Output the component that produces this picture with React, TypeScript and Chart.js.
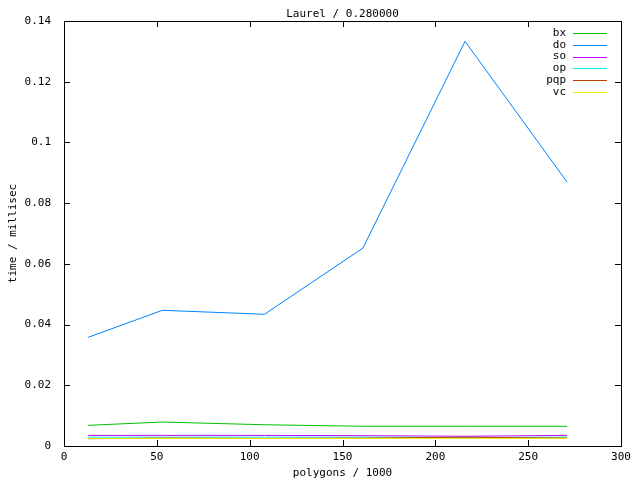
import React, { useEffect, useRef } from "react";
import { Chart, registerables } from "chart.js";

Chart.register(...registerables);

const chartTitle = "Laurel / 0.280000";
const xTitle = "polygons / 1000";
const yTitle = "time / millisec";

const polygons = [13, 53, 108, 161, 216, 271];

const seriesNames = ["bx", "do", "so", "op", "pqp", "vc"];
const bx = [0.0068, 0.0079, 0.007, 0.0065, 0.0065, 0.0065];
const doTimes = [0.0358, 0.0447, 0.0434, 0.0652, 0.1333, 0.0869];
const so = [0.0035, 0.0035, 0.0035, 0.0034, 0.0032, 0.0035];
const op = [0.0029, 0.0029, 0.0029, 0.0029, 0.0028, 0.0029];
const pqp = [0.0024, 0.0026, 0.0025, 0.0026, 0.0029, 0.0026];
const vc = [0.0025, 0.0025, 0.0025, 0.0025, 0.0025, 0.0025];
const seriesValues = [bx, doTimes, so, op, pqp, vc];
const seriesColors = ["#00c000", "#0080ff", "#c000ff", "#00eeee", "#c04000", "#eeee00"];

const xMin = 0;
const xMax = 300;
const xStep = 50;
const yMin = 0;
const yMax = 0.14;
const yStep = 0.02;

const FONT_FAMILY = "'DejaVu Sans Mono', 'Liberation Mono', monospace";
const font = { family: FONT_FAMILY, size: 11 };

const framePlugin = {
  id: "gnuplotFrame",
  afterDraw(chart: any) {
    const { ctx, chartArea } = chart;
    const { left, right, top, bottom } = chartArea;
    const xs = chart.scales.x;
    const ys = chart.scales.y;
    const tick = 6;
    ctx.save();
    ctx.strokeStyle = "#000";
    ctx.lineWidth = 1;
    ctx.beginPath();
    for (const t of xs.ticks) {
      const px = Math.round(xs.getPixelForValue(t.value)) + 0.5;
      ctx.moveTo(px, bottom);
      ctx.lineTo(px, bottom - tick);
      ctx.moveTo(px, top);
      ctx.lineTo(px, top + tick);
    }
    for (const t of ys.ticks) {
      const py = Math.round(ys.getPixelForValue(t.value)) + 0.5;
      ctx.moveTo(left, py);
      ctx.lineTo(left + tick, py);
      ctx.moveTo(right, py);
      ctx.lineTo(right - tick, py);
    }
    ctx.stroke();
    ctx.strokeRect(Math.round(left) + 0.5, Math.round(top) + 0.5, Math.round(right - left), Math.round(bottom - top));

    // title
    ctx.fillStyle = "#000";
    ctx.font = `11px ${FONT_FAMILY}`;
    ctx.textAlign = "center";
    ctx.textBaseline = "middle";
    ctx.fillText(chartTitle, (left + right) / 2, 14);

    // key (legend)
    const textRight = 566;
    const lineStart = 573;
    const lineEnd = 607;
    const rowTop = 33;
    const rowGap = 11.8;
    ctx.textAlign = "right";
    chart.data.datasets.forEach((ds: any, i: number) => {
      const y = rowTop + i * rowGap;
      ctx.fillStyle = "#000";
      ctx.fillText(ds.label, textRight, y);
      ctx.strokeStyle = ds.borderColor;
      ctx.beginPath();
      ctx.moveTo(lineStart, Math.round(y) + 0.5);
      ctx.lineTo(lineEnd, Math.round(y) + 0.5);
      ctx.stroke();
    });
    ctx.restore();
  },
};

export default function App() {
  const canvasRef = useRef<HTMLCanvasElement | null>(null);

  useEffect(() => {
    if (!canvasRef.current) return;
    const datasets = seriesNames.map((name, i) => ({
      label: name,
      data: polygons.map((x, j) => ({ x, y: seriesValues[i][j] })),
      borderColor: seriesColors[i],
      backgroundColor: seriesColors[i],
      borderWidth: 1,
      pointRadius: 0,
      tension: 0,
      fill: false,
      order: seriesNames.length - i,
    }));
    const chart = new Chart(canvasRef.current, {
      type: "line",
      data: { datasets },
      options: {
        animation: false,
        responsive: false,
        maintainAspectRatio: false,
        layout: { padding: { top: 21, right: 19, left: 0, bottom: 0 } },
        plugins: {
          legend: { display: false },
          tooltip: { enabled: false },
          title: { display: false },
        },
        scales: {
          x: {
            type: "linear",
            min: xMin,
            max: xMax,
            ticks: {
              stepSize: xStep,
              padding: 5,
              font,
              color: "#000",
              maxRotation: 0,
              callback: (v: any) => String(v),
            },
            grid: { display: false, drawTicks: false },
            border: { display: false },
            title: {
              display: true,
              text: xTitle,
              font,
              color: "#000",
              padding: { top: 0, bottom: 0 },
            },
            afterFit: (s: any) => {
              s.height = 34;
            },
          },
          y: {
            type: "linear",
            min: yMin,
            max: yMax,
            ticks: {
              stepSize: yStep,
              padding: 13,
              font,
              color: "#000",
              callback: (v: any) => String(+Number(v).toFixed(2)),
            },
            grid: { display: false, drawTicks: false },
            border: { display: false },
            title: {
              display: true,
              text: yTitle,
              font,
              color: "#000",
              padding: { top: 7, bottom: 0 },
            },
            afterFit: (s: any) => {
              s.width = 64;
            },
          },
        },
      } as any,
      plugins: [framePlugin],
    });
    return () => chart.destroy();
  }, []);

  return (
    <div style={{ position: "absolute", left: 0, top: 0, width: 640, height: 480, background: "#fff" }}>
      <canvas ref={canvasRef} width={640} height={480} style={{ display: "block" }} />
    </div>
  );
}
